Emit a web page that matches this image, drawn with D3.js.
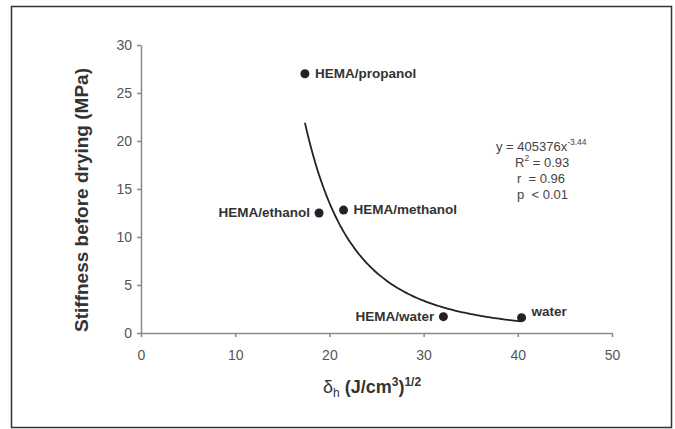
<!DOCTYPE html>
<html>
<head>
<meta charset="utf-8">
<script src="https://cdn.jsdelivr.net/npm/d3@7"></script>
<style>
  body { margin: 0; background: #fff; }
  text { font-family: "Liberation Sans", Arial, sans-serif; }
</style>
</head>
<body>
<svg id="chart"></svg>
<script>
// data
var solvents = ["HEMA/propanol", "HEMA/ethanol", "HEMA/methanol", "HEMA/water", "water"];
var deltaH = [17.4, 18.9, 21.5, 32.1, 40.4];
var stiffness = [27.0, 12.5, 12.8, 1.7, 1.6];
var labelSide = ["right", "left", "right", "left", "right"];

var xTicks = [0, 10, 20, 30, 40, 50];
var yTicks = [0, 5, 10, 15, 20, 25, 30];

// power trend line y = a * x^b, as printed on the chart
var fitA = 405376;
var fitB = -3.44;
var fitRange = [17.4, 40.3];

var W = 675, H = 429;
var svg = d3.select("#chart").attr("width", W).attr("height", H);

// frame
svg.append("rect")
    .attr("x", 11.5).attr("y", 6.5)
    .attr("width", 660).attr("height", 421)
    .attr("fill", "none").attr("stroke", "#333").attr("stroke-width", 1.5);

var x = d3.scaleLinear().domain([0, 50]).range([141, 612]);
var y = d3.scaleLinear().domain([0, 30]).range([333, 45]);

// axes
var gx = svg.append("g")
    .attr("transform", "translate(0,333)")
    .call(d3.axisBottom(x).tickValues(xTicks).tickSize(4).tickPadding(13).tickSizeOuter(0));
var gy = svg.append("g")
    .attr("transform", "translate(141,0)")
    .call(d3.axisLeft(y).tickValues(yTicks).tickSize(4).tickPadding(5).tickSizeOuter(0));

[gx, gy].forEach(function(g) {
    g.select(".domain").attr("stroke", "#8a8a8a").attr("stroke-width", 1.5);
    g.selectAll(".tick line").attr("stroke", "#8a8a8a").attr("stroke-width", 1.5);
    g.selectAll(".tick text")
        .attr("fill", "#555")
        .style("font-family", "'Liberation Sans', Arial, sans-serif")
        .style("font-size", "14px");
});

// trend line
var fitX = d3.range(0, 101).map(function(i) {
    return fitRange[0] + (fitRange[1] - fitRange[0]) * i / 100;
});
var line = d3.line()
    .x(function(d) { return x(d); })
    .y(function(d) { return y(fitA * Math.pow(d, fitB)); })
    .curve(d3.curveMonotoneX);
svg.append("path")
    .datum(fitX)
    .attr("d", line)
    .attr("fill", "none")
    .attr("stroke", "#222")
    .attr("stroke-width", 1.8);

// points
svg.selectAll("circle.pt")
    .data(deltaH)
    .enter()
    .append("circle")
    .attr("class", "pt")
    .attr("cx", function(d) { return x(d); })
    .attr("cy", function(d, i) { return y(stiffness[i]); })
    .attr("r", 4.5)
    .attr("fill", "#222");

svg.selectAll("text.lbl")
    .data(solvents)
    .enter()
    .append("text")
    .attr("class", "lbl")
    .attr("x", function(d, i) {
        return x(deltaH[i]) + (labelSide[i] === "right" ? 10 : -9);
    })
    .attr("y", function(d, i) { return y(stiffness[i]) + (i === 4 ? -2 : 4); })
    .attr("text-anchor", function(d, i) { return labelSide[i] === "right" ? "start" : "end"; })
    .attr("font-size", "13.5px")
    .attr("font-weight", "bold")
    .attr("fill", "#333")
    .text(function(d) { return d; });

// equation box
var eq = svg.append("g").attr("fill", "#444").attr("font-size", "13px");
var t1 = eq.append("text").attr("x", 496).attr("y", 151);
t1.append("tspan").text("y = 405376x");
t1.append("tspan").attr("dy", -6).attr("font-size", "8.5px").text("-3.44");
var t2 = eq.append("text").attr("x", 515).attr("y", 167);
t2.append("tspan").text("R");
t2.append("tspan").attr("dy", -6).attr("font-size", "8.5px").text("2");
t2.append("tspan").attr("dy", 6).text(" = 0.93");
eq.append("text").attr("x", 517).attr("y", 183).attr("xml:space", "preserve").text("r  = 0.96");
eq.append("text").attr("x", 517).attr("y", 199).attr("xml:space", "preserve").text("p  < 0.01");

// axis titles
svg.append("text")
    .attr("transform", "translate(88,200) rotate(-90)")
    .attr("text-anchor", "middle")
    .attr("font-size", "19px")
    .attr("font-weight", "bold")
    .attr("fill", "#333")
    .text("Stiffness before drying (MPa)");

var xt = svg.append("text")
    .attr("x", 372).attr("y", 393)
    .attr("text-anchor", "middle")
    .attr("font-size", "18px")
    .attr("font-weight", "bold")
    .attr("fill", "#333");
xt.append("tspan").attr("font-weight", "normal").text("δ");
xt.append("tspan").attr("dy", 4).attr("font-size", "12px").attr("font-weight", "normal").text("h");
xt.append("tspan").attr("dy", -4).text(" (J/cm");
xt.append("tspan").attr("dy", -7).attr("font-size", "12px").text("3");
xt.append("tspan").attr("dy", 7).text(")");
xt.append("tspan").attr("dy", -7).attr("font-size", "12px").text("1/2");
</script>
</body>
</html>
